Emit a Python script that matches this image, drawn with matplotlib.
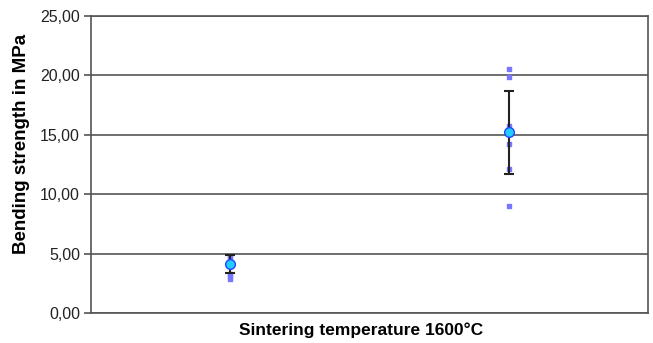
import matplotlib
matplotlib.use("Agg")
import matplotlib.pyplot as plt
from matplotlib.ticker import FuncFormatter

plt.rcParams['font.family'] = ['Liberation Sans', 'DejaVu Sans']

# data
positions = [0.25, 0.75]
means = [4.1, 15.2]
err_low = [0.75, 3.5]
err_high = [0.75, 3.5]
samples_1 = [4.8, 4.6, 3.3, 3.1, 2.9]
samples_2 = [20.5, 19.85, 15.7, 14.2, 12.1, 9.0]

fig = plt.figure(figsize=(6.53, 3.43), dpi=100)
ax = fig.add_axes([91/653, 30/343, 557/653, 297/343])

ax.set_xlim(0, 1)
ax.set_ylim(0, 25)
ax.set_yticks([0, 5, 10, 15, 20, 25])
ax.yaxis.set_major_formatter(FuncFormatter(lambda v, p: f"{v:.2f}".replace(".", ",")))
ax.set_xticks([])

ax.grid(axis='y', color='#555555', linewidth=1.2)
ax.set_axisbelow(True)
for s in ax.spines.values():
	s.set_color('#555555')
	s.set_linewidth(1.2)
ax.tick_params(axis='y', colors='#555555', labelcolor='#222222', labelsize=11.5, length=5, width=1.2, pad=3)

ax.scatter([positions[0]] * len(samples_1), samples_1, s=7, marker='s', color='#7777ff', zorder=3)
ax.scatter([positions[1]] * len(samples_2), samples_2, s=7, marker='s', color='#7777ff', zorder=3)

ax.errorbar(positions, means, yerr=[err_low, err_high], fmt='none', ecolor='#222222',
	elinewidth=1.5, capsize=3.5, capthick=1.5, zorder=4)
ax.plot(positions, means, 'o', markersize=7, markerfacecolor='#22ccff',
	markeredgecolor='#2244ff', markeredgewidth=1.0, zorder=5)

ax.set_ylabel('Bending strength in MPa', fontsize=13.5, fontweight='bold')
ax.yaxis.set_label_coords(-0.11, 0.57)
ax.set_xlabel('Sintering temperature 1600°C', fontsize=12.5, fontweight='bold')
ax.xaxis.set_label_coords(0.485, -0.033)

fig.savefig('out.png', dpi=100)
